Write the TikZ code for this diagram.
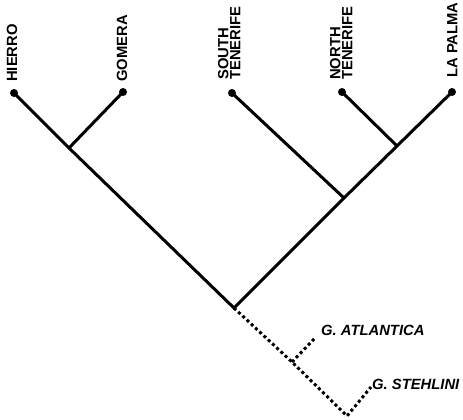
\documentclass[tikz,border=0pt]{standalone}
\usepackage{fontspec}
\setmainfont{Liberation Sans}
\begin{document}
\begin{tikzpicture}[x=1pt,y=-1pt,
  dot/.style={circle,fill=black,inner sep=0pt,minimum size=8pt},
  branch/.style={line width=3pt,line join=miter},
  fossil/.style={line width=3pt,dash pattern=on 3pt off 2.8pt},
  leaf/.style={rotate=90,anchor=south west,inner sep=0pt,align=left,
    font=\fontsize{14.8}{12}\selectfont\bfseries},
  species/.style={anchor=west,inner sep=0pt,font=\fontsize{14.8}{15}\selectfont\bfseries\itshape}]
\useasboundingbox (0,0) rectangle (463,420);
% leaves
\node[dot] (hierro) at (14,93) {};
\node[dot] (gomera) at (123,92) {};
\node[dot] (stener) at (232,93) {};
\node[dot] (ntener) at (342,92) {};
\node[dot] (lapalma) at (452,92) {};
% internal nodes
\coordinate (hg) at (69,148);
\coordinate (nl) at (397,146);
\coordinate (snl) at (344,198);
\coordinate (root) at (234,308);
\coordinate (atn) at (292,362);
\coordinate (atip) at (316,337);
\coordinate (sbot) at (347,416);
\coordinate (stip) at (371,387);
% labels
\node[leaf] (lhierro) at (17.5,82) {HIERRO};
\node[leaf] (lgomera) at (127.5,82) {GOMERA};
\node[leaf] (lstener) at (240.5,80) {SOUTH\\TENERIFE};
\node[leaf] (lntener) at (352.5,80) {NORTH\\TENERIFE};
\node[leaf] (llapalma) at (457.5,78) {LA PALMA};
\node[species] (latl) at (321,330) {G. ATLANTICA};
\node[species] (lste) at (372,384) {G. STEHLINI};
% tree
\draw[branch] (hierro.center) -- (hg) -- (root) -- (snl) -- (nl) -- (lapalma.center);
\draw[branch] (gomera.center) -- (hg);
\draw[branch] (stener.center) -- (snl);
\draw[branch] (ntener.center) -- (nl);
\draw[fossil] (root) -- (atn) -- (sbot) -- (stip);
\draw[fossil] (atn) -- (atip);
\end{tikzpicture}
\end{document}
